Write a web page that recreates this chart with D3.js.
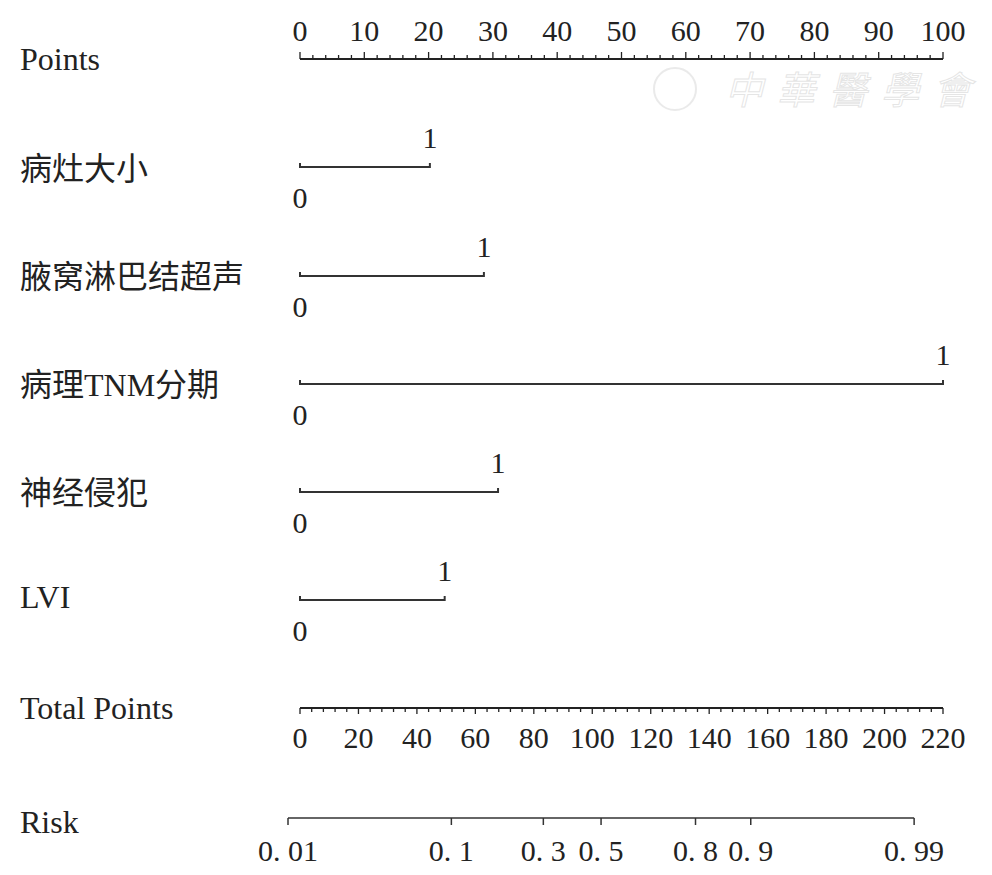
<!DOCTYPE html>
<html>
<head>
<meta charset="utf-8">
<script src="https://cdn.jsdelivr.net/npm/d3@7"></script>
<style>
  body { margin: 0; background: #fff; }
  text { font-family: "Liberation Serif", "Noto Sans CJK SC", serif; fill: #222; }
</style>
</head>
<body>
<svg id="chart" width="992" height="875"></svg>
<script>
// nomogram data
const variables = ['病灶大小', '腋窝淋巴结超声', '病理TNM分期', '神经侵犯', 'LVI'];
const levelPoints = [20.2, 28.6, 100, 30.8, 22.5];   // points for level "1"
const pointsTicks = d3.range(0, 101, 10);
const totalTicks = d3.range(0, 221, 20);
const riskTicks = [0.01, 0.1, 0.3, 0.5, 0.8, 0.9, 0.99];
const riskLabels = ['0. 01', '0. 1', '0. 3', '0. 5', '0. 8', '0. 9', '0. 99'];
// linear predictor = intercept + slope * total points
const intercept = -4.419;
const slope = 0.0429;

const svg = d3.select('#chart');
const x0 = 300, x1 = 943;

const xPoints = d3.scaleLinear().domain([0, 100]).range([x0, x1]);
const xTotal = d3.scaleLinear().domain([0, 220]).range([x0, x1]);
const logit = p => Math.log(p / (1 - p));
const riskX = p => xTotal((logit(p) - intercept) / slope);

const labelSize = 30;
const rowSize = 32;

function rowLabel(txt, y) {
    svg.append('text')
        .attr('x', 20).attr('y', y)
        .attr('font-size', rowSize)
        .text(txt);
}

// Points axis (ticks point up)
const pY = 59;
rowLabel('Points', 70);
svg.append('line')
    .attr('x1', xPoints(0)).attr('x2', xPoints(100))
    .attr('y1', pY).attr('y2', pY)
    .attr('stroke', '#222').attr('stroke-width', 2);
svg.selectAll('.ptick')
    .data(d3.range(0, 101, 2))
    .join('line')
    .attr('x1', d => xPoints(d)).attr('x2', d => xPoints(d))
    .attr('y1', pY).attr('y2', d => d % 10 === 0 ? pY - 7 : pY - 4)
    .attr('stroke', '#222').attr('stroke-width', 1.3);
svg.selectAll('.plab')
    .data(pointsTicks)
    .join('text')
    .attr('x', d => xPoints(d)).attr('y', 41)
    .attr('text-anchor', 'middle')
    .attr('font-size', labelSize)
    .text(d => d);

// variable rows
const rowY = [167, 276, 384, 492, 600];
const labelY = [180, 288, 396, 504, 608];
variables.forEach((v, i) => {
    const y = rowY[i];
    rowLabel(v, labelY[i]);
    svg.append('line')
        .attr('x1', xPoints(0)).attr('x2', xPoints(levelPoints[i]))
        .attr('y1', y).attr('y2', y)
        .attr('stroke', '#333').attr('stroke-width', 2);
    [0, levelPoints[i]].forEach(p => {
        svg.append('line')
            .attr('x1', xPoints(p)).attr('x2', xPoints(p))
            .attr('y1', y + 1).attr('y2', y - 4)
            .attr('stroke', '#333').attr('stroke-width', 2);
    });
    svg.append('text')
        .attr('x', xPoints(levelPoints[i])).attr('y', y - 19)
        .attr('text-anchor', 'middle')
        .attr('font-size', labelSize)
        .text('1');
    svg.append('text')
        .attr('x', xPoints(0)).attr('y', y + 41)
        .attr('text-anchor', 'middle')
        .attr('font-size', labelSize)
        .text('0');
});

// Total Points axis (ticks point down)
const tY = 708;
rowLabel('Total Points', 719);
svg.append('line')
    .attr('x1', xTotal(0)).attr('x2', xTotal(220))
    .attr('y1', tY).attr('y2', tY)
    .attr('stroke', '#222').attr('stroke-width', 2);
svg.selectAll('.ttick')
    .data(d3.range(0, 221, 4))
    .join('line')
    .attr('x1', d => xTotal(d)).attr('x2', d => xTotal(d))
    .attr('y1', tY).attr('y2', d => d % 20 === 0 ? tY + 6 : tY + 4)
    .attr('stroke', '#222').attr('stroke-width', 1.3);
svg.selectAll('.tlab')
    .data(totalTicks)
    .join('text')
    .attr('x', d => xTotal(d)).attr('y', 748)
    .attr('text-anchor', 'middle')
    .attr('font-size', labelSize)
    .text(d => d);

// Risk axis
const rY = 818;
rowLabel('Risk', 833);
svg.append('line')
    .attr('x1', riskX(riskTicks[0])).attr('x2', riskX(riskTicks[riskTicks.length - 1]))
    .attr('y1', rY).attr('y2', rY)
    .attr('stroke', '#333').attr('stroke-width', 1.5);
svg.selectAll('.rtick')
    .data(riskTicks)
    .join('line')
    .attr('x1', d => riskX(d)).attr('x2', d => riskX(d))
    .attr('y1', rY).attr('y2', rY + 7)
    .attr('stroke', '#333').attr('stroke-width', 1.5);
svg.selectAll('.rlab')
    .data(riskTicks)
    .join('text')
    .attr('x', d => riskX(d)).attr('y', 861)
    .attr('text-anchor', 'middle')
    .attr('font-size', labelSize)
    .text((d, i) => riskLabels[i]);

// faint watermark
const wm = svg.append('g').attr('opacity', 0.3);
wm.append('circle')
    .attr('cx', 675).attr('cy', 89).attr('r', 21)
    .attr('fill', 'none').attr('stroke', '#bbb').attr('stroke-width', 2);
wm.append('text')
    .attr('x', 725).attr('y', 104)
    .attr('font-size', 38)
    .attr('font-style', 'italic')
    .attr('letter-spacing', 14)
    .style('fill', 'none').style('stroke', '#aaa').style('stroke-width', 1)
    .text('中華醫學會');
</script>
</body>
</html>
